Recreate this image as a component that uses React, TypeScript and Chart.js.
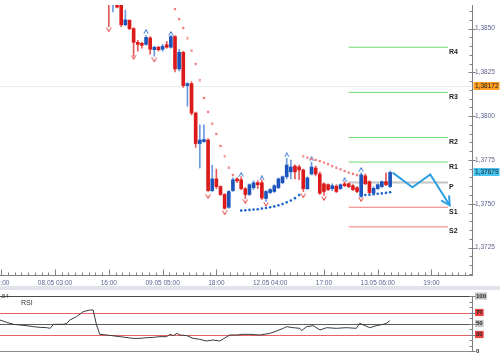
import React, { useEffect, useRef } from 'react';
import { Chart, registerables } from 'chart.js';

Chart.register(...registerables);

// ---- axis settings ----
const X_MIN = -26.57;
const X_MAX = 100.79;
const PRICE_MIN = 1.370874;
const PRICE_MAX = 1.386345;

// ---- x axis (hours from 08.05 03:00) ----
const xTickHours = [-13, 0, 13, 26, 39, 52, 65, 78, 91];
const xTickLabels = ['14:00', '08.05 03:00', '16:00', '09.05 05:00', '18:00', '12.05 04:00', '17:00', '13.05 06:00', '19:00'];
const xMinorPerMajor = 8;

// ---- price axis ----
const yTickValues = [1.3725, 1.375, 1.3775, 1.38, 1.3825, 1.385];

// ---- candles ----
const candleHours = [13, 14, 15, 16, 17, 18, 19, 20, 21, 22, 23, 24, 25, 26, 27, 28, 29, 30, 31, 32, 33, 34, 35, 36, 37, 38, 39, 40, 41, 42, 43, 44, 45, 46, 47, 48, 49, 50, 51, 52, 53, 54, 55, 56, 57, 58, 59, 60, 61, 62, 63, 64, 65, 66, 67, 68, 69, 70, 71, 72, 73, 74, 75, 76, 77, 78, 79, 80, 81];
const opens = [1.38803, 1.38651, 1.38663, 1.38646, 1.38522, 1.38548, 1.385, 1.38422, 1.38416, 1.3841, 1.38447, 1.3838, 1.38394, 1.38382, 1.38408, 1.38394, 1.38455, 1.3827, 1.38365, 1.38175, 1.38186, 1.38018, 1.37844, 1.37855, 1.37864, 1.37575, 1.37642, 1.37598, 1.37553, 1.3748, 1.37575, 1.37642, 1.37637, 1.37586, 1.37553, 1.37592, 1.3762, 1.3762, 1.3753, 1.37564, 1.3757, 1.37592, 1.3762, 1.37654, 1.37682, 1.37715, 1.3771, 1.37693, 1.37586, 1.3767, 1.37704, 1.3767, 1.37614, 1.37609, 1.37586, 1.376, 1.37586, 1.37614, 1.37614, 1.37603, 1.37592, 1.37542, 1.37659, 1.37626, 1.3756, 1.37586, 1.37598, 1.37626, 1.37598];
const closes = [1.38663, 1.38719, 1.38623, 1.38522, 1.3855, 1.385, 1.38422, 1.3841, 1.38405, 1.3845, 1.38382, 1.38394, 1.3838, 1.38399, 1.38394, 1.38455, 1.3827, 1.38365, 1.38175, 1.38186, 1.38018, 1.37844, 1.37864, 1.37867, 1.37575, 1.37642, 1.37598, 1.37553, 1.37474, 1.3757, 1.37637, 1.37631, 1.37586, 1.37553, 1.37609, 1.3762, 1.37609, 1.37533, 1.3757, 1.37581, 1.37603, 1.37642, 1.37654, 1.37721, 1.3771, 1.37682, 1.37693, 1.37586, 1.37648, 1.3771, 1.3767, 1.3756, 1.3757, 1.37581, 1.37603, 1.3757, 1.37609, 1.37603, 1.37598, 1.37581, 1.3757, 1.37665, 1.37614, 1.37564, 1.37588, 1.37609, 1.37626, 1.37609, 1.37679];
const highs = [1.38831, 1.38747, 1.38679, 1.38663, 1.38606, 1.3855, 1.38506, 1.38433, 1.38422, 1.38461, 1.38455, 1.38399, 1.38399, 1.3841, 1.38427, 1.38461, 1.38461, 1.38382, 1.38371, 1.38192, 1.38197, 1.38024, 1.37951, 1.37951, 1.37872, 1.37721, 1.37698, 1.37603, 1.37558, 1.37575, 1.37648, 1.37648, 1.37654, 1.37592, 1.37614, 1.37631, 1.37631, 1.37637, 1.37575, 1.37586, 1.37609, 1.37648, 1.37659, 1.3776, 1.37749, 1.37723, 1.37721, 1.37698, 1.37654, 1.37738, 1.37715, 1.37682, 1.3762, 1.37614, 1.37614, 1.37609, 1.37614, 1.37626, 1.3762, 1.37609, 1.37598, 1.37676, 1.3767, 1.37631, 1.37598, 1.37614, 1.37631, 1.37676, 1.37687];
const lows = [1.38511, 1.38595, 1.38618, 1.38511, 1.38517, 1.38494, 1.38343, 1.38371, 1.38388, 1.38405, 1.38354, 1.38343, 1.38371, 1.38371, 1.38388, 1.38388, 1.38253, 1.38259, 1.38164, 1.38057, 1.38007, 1.37822, 1.37704, 1.3785, 1.3757, 1.3757, 1.37586, 1.37547, 1.37469, 1.37474, 1.3757, 1.3762, 1.37581, 1.3753, 1.37547, 1.37581, 1.37586, 1.37525, 1.37513, 1.37558, 1.37564, 1.37586, 1.37614, 1.37642, 1.37642, 1.37642, 1.37637, 1.3757, 1.37581, 1.37665, 1.37659, 1.37553, 1.37547, 1.37575, 1.37575, 1.37564, 1.37581, 1.37598, 1.37592, 1.37575, 1.37564, 1.37536, 1.37609, 1.37558, 1.37558, 1.37581, 1.37592, 1.37603, 1.37592];

// ---- fractals ----
const fractalUpHours = [22, 28, 45, 50, 56, 62, 70, 74];
const fractalUpValues = [1.38483, 1.38472, 1.37667, 1.37648, 1.37779, 1.37756, 1.37637, 1.37695];
const fractalDownHours = [13, 19, 24, 37, 41, 46, 51, 60, 65, 74];
const fractalDownValues = [1.38494, 1.38337, 1.38321, 1.37542, 1.37448, 1.37513, 1.37497, 1.37545, 1.3753, 1.37525];

// ---- parabolic SAR ----
const sarRedHours = [29, 30, 31, 32, 33, 34, 35, 36, 37, 38, 39, 40, 41, 42, 43, 60, 61, 62, 63, 64, 65, 66, 67, 68, 69, 70, 71, 72, 73];
const sarRedValues = [1.38612, 1.38554, 1.38504, 1.38444, 1.38375, 1.38298, 1.38205, 1.38104, 1.38025, 1.37958, 1.37899, 1.37831, 1.3777, 1.37706, 1.37663, 1.3777, 1.37763, 1.37756, 1.37751, 1.37743, 1.37735, 1.37726, 1.37715, 1.37707, 1.37697, 1.37686, 1.37678, 1.3767, 1.37663];
const sarBlueHours = [45, 46, 47, 48, 49, 50, 51, 52, 53, 54, 55, 56, 57, 58, 59, 74, 75, 76, 77, 78, 79, 80, 81];
const sarBlueValues = [1.37461, 1.37463, 1.37465, 1.37467, 1.37469, 1.37473, 1.37476, 1.3748, 1.37485, 1.37491, 1.37498, 1.37508, 1.37519, 1.37532, 1.3755, 1.37547, 1.3755, 1.37551, 1.37554, 1.37557, 1.37559, 1.37562, 1.37566];

// ---- pivot levels ----
const pivotNames = ['R4', 'R3', 'R2', 'R1', 'P', 'S1', 'S2'];
const pivotValues = [1.38394, 1.38136, 1.37878, 1.37738, 1.37622, 1.3748, 1.37368];
const pivotStart = 71;
const pivotEnd = 95;

// ---- forecast arrow ----
const forecastHours = [81.6, 86.4, 90.7, 95.4];
const forecastValues = [1.37678, 1.37594, 1.37667, 1.37491];

// ---- price markers ----
const markPrice = 1.38172;
const lastPrice = 1.37679;

// ---- RSI ----
const rsiHours = [-12.2, -10.6, -9, -7.4, -5.8, -4.2, -2.6, -1, -0.2, 0.6, 3.1, 3.8, 4.5, 6.1, 7.7, 9.3, 10.1, 10.9, 11.7, 13.3, 16.5, 19.6, 21.3, 22.9, 24.5, 26.1, 27.7, 28.5, 29.3, 30.1, 30.9, 32.5, 34, 35.6, 37.2, 38.8, 40.4, 41.2, 42.8, 44.4, 46, 47.6, 50, 52.4, 54, 55.6, 56.4, 58, 59.6, 60, 61.2, 62.8, 64.4, 66, 68.3, 70.7, 73.1, 73.9, 76.3, 77.9, 79.5, 80.3, 81.1];
const rsiValues = [56.4, 52, 48.5, 47.3, 46, 44.2, 43, 42.4, 41.2, 48.5, 48.5, 50.3, 56.4, 62.4, 71.5, 74.5, 74.5, 47.3, 30.3, 29.1, 26.1, 23, 23, 24.2, 24.8, 26.1, 26.1, 30.3, 27.9, 32.1, 29.1, 27.9, 23, 21.2, 18.2, 20, 18.2, 21.8, 29.1, 29.1, 30.3, 30.3, 29.1, 32.1, 36.4, 41.2, 44.2, 42.4, 41.2, 37, 44.2, 46, 38.2, 42.4, 41.2, 42.4, 41.2, 50.3, 42.4, 46, 48.5, 50.3, 55];
const rsiTickValues = [0, 30, 50, 70, 100];
const rsiTickBg = ['rgba(0,0,0,0)', '#ee4444', '#c6c6c6', '#ee4444', '#c6c6c6'];
const rsiLevels = [30, 50, 70];
const rsiLevelColors = ['#e46262', '#5c5c5c', '#e46262'];
const rsiLabel = 'RSI';
const rsiValueLabel = '57,54';

const FONT = 'Liberation Sans';
const AXIS_TEXT = '#5d6390';

function chevron(up: boolean, color: string) {
  const c = document.createElement('canvas');
  c.width = 6;
  c.height = 5;
  const g = c.getContext('2d')!;
  g.strokeStyle = color;
  g.lineWidth = 1;
  g.beginPath();
  if (up) {
    g.moveTo(0.8, 4.6);
    g.lineTo(3, 0.6);
    g.lineTo(5.2, 4.6);
  } else {
    g.moveTo(0.8, 0.4);
    g.lineTo(3, 4.4);
    g.lineTo(5.2, 0.4);
  }
  g.stroke();
  return c;
}

const fmt = (v: number, d: number) => v.toFixed(d).replace('.', ',');

export default function App() {
  const mainRef = useRef<HTMLCanvasElement>(null);
  const rsiRef = useRef<HTMLCanvasElement>(null);

  useEffect(() => {
    const upImg = chevron(true, '#2f72d2');
    const downImg = chevron(false, '#e23a3a');

    const bull = candleHours.map((_, i) => closes[i] >= opens[i]);

    const pivotColor = (n: string) => (n === 'P' ? '#c4c4c4' : n[0] === 'R' ? '#6ad86a' : '#f07878');

    const mainDecor = {
      id: 'mainDecor',
      beforeDatasetsDraw(chart: any) {
        const { ctx, chartArea: a, scales } = chart;
        const y = scales.y;
        const yy = Math.round(y.getPixelForValue(markPrice)) + 0.5;
        ctx.save();
        ctx.strokeStyle = '#ededed';
        ctx.lineWidth = 1;
        ctx.beginPath();
        ctx.moveTo(a.left, yy);
        ctx.lineTo(a.right, yy);
        ctx.stroke();
        ctx.restore();
      },
      afterDraw(chart: any) {
        const { ctx, chartArea: a, scales } = chart;
        const x = scales.x;
        const y = scales.y;
        const by = Math.round(a.bottom) - 0.5;
        const rx = Math.round(a.right) + 0.5;
        ctx.save();
        ctx.strokeStyle = '#808080';
        ctx.lineWidth = 1;
        ctx.beginPath();
        ctx.moveTo(a.left, by);
        ctx.lineTo(rx, by);
        ctx.moveTo(rx, a.top);
        ctx.lineTo(rx, by);
        const step = 13 / xMinorPerMajor;
        for (let k = 0; ; k++) {
          const v = xTickHours[0] + k * step;
          if (v > X_MAX) break;
          const px = Math.round(x.getPixelForValue(v)) + 0.5;
          const len = k % xMinorPerMajor === 0 ? 6 : 3;
          ctx.moveTo(px, by);
          ctx.lineTo(px, by - len);
        }
        for (let k = -10; k < 40; k++) {
          const v = yTickValues[0] + k * 0.0005;
          if (v < PRICE_MIN || v > PRICE_MAX) continue;
          const py = Math.round(y.getPixelForValue(v)) + 0.5;
          if (k % 5 === 0) {
            ctx.moveTo(rx - 4, py);
            ctx.lineTo(rx + 3, py);
          } else {
            ctx.moveTo(rx - 3, py);
            ctx.lineTo(rx, py);
          }
        }
        ctx.stroke();

        const box = (val: number, bg: string) => {
          const py = y.getPixelForValue(val);
          ctx.fillStyle = bg;
          ctx.fillRect(rx + 1, Math.round(py) - 4, 26, 8);
          ctx.fillStyle = '#1e1e1e';
          ctx.font = `6.5px ${FONT}`;
          ctx.textAlign = 'left';
          ctx.textBaseline = 'middle';
          ctx.fillText(fmt(val, 5), rx + 2.5, Math.round(py) + 0.5);
        };
        box(markPrice, '#ff9c22');
        box(lastPrice, '#45c4f2');

        ctx.font = `bold 7px ${FONT}`;
        ctx.fillStyle = '#222';
        ctx.textAlign = 'left';
        ctx.textBaseline = 'middle';
        pivotNames.forEach((n, i) => {
          ctx.fillText(n, x.getPixelForValue(pivotEnd) + 1, y.getPixelForValue(pivotValues[i]) + 4.5);
        });

        const n = forecastHours.length;
        const x1 = x.getPixelForValue(forecastHours[n - 1]);
        const y1 = y.getPixelForValue(forecastValues[n - 1]);
        const x0 = x.getPixelForValue(forecastHours[n - 2]);
        const y0 = y.getPixelForValue(forecastValues[n - 2]);
        const ang = Math.atan2(y1 - y0, x1 - x0);
        ctx.strokeStyle = '#2d9fe3';
        ctx.lineWidth = 2;
        ctx.lineCap = 'round';
        ctx.beginPath();
        ctx.moveTo(x1 + 9 * Math.cos(ang + Math.PI - 0.5), y1 + 9 * Math.sin(ang + Math.PI - 0.5));
        ctx.lineTo(x1, y1);
        ctx.lineTo(x1 + 9 * Math.cos(ang + Math.PI + 0.5), y1 + 9 * Math.sin(ang + Math.PI + 0.5));
        ctx.stroke();
        ctx.restore();
      },
    };

    const main = new Chart(mainRef.current!, {
      type: 'bar',
      data: {
        datasets: [
          {
            type: 'bar',
            label: 'bodies',
            data: candleHours.map((h, i) => ({ x: h, y: [opens[i], closes[i]] })) as any,
            backgroundColor: bull.map((b) => (b ? '#1d55bc' : '#dc1a1a')),
            barThickness: 3,
            grouped: false,
            minBarLength: 1,
            borderWidth: 0,
            order: 2,
          },
          {
            type: 'bar',
            label: 'wicks',
            data: candleHours.map((h, i) => ({ x: h, y: [lows[i], highs[i]] })) as any,
            backgroundColor: bull.map((b) => (b ? '#6b9ae0' : '#e65a5a')),
            barThickness: 1,
            grouped: false,
            borderWidth: 0,
            order: 3,
          },
          ...pivotNames.map((n, i) => ({
            type: 'line' as const,
            label: n,
            data: [
              { x: pivotStart, y: pivotValues[i] },
              { x: pivotEnd, y: pivotValues[i] },
            ],
            borderColor: pivotColor(n),
            borderWidth: n === 'P' ? 2 : 1,
            pointRadius: 0,
            order: 6,
          })),
          {
            type: 'line',
            label: 'sarRed',
            data: sarRedHours.map((h, i) => ({ x: h, y: sarRedValues[i] })),
            showLine: false,
            pointStyle: 'crossRot',
            pointRadius: 1.4,
            pointBorderColor: '#f07878',
            pointBorderWidth: 1.1,
            order: 1,
          },
          {
            type: 'line',
            label: 'sarBlue',
            data: sarBlueHours.map((h, i) => ({ x: h, y: sarBlueValues[i] })),
            showLine: false,
            pointStyle: 'circle',
            pointRadius: 1.3,
            pointBackgroundColor: '#1c66c9',
            pointBorderWidth: 0,
            order: 1,
          },
          {
            type: 'line',
            label: 'fractalUp',
            data: fractalUpHours.map((h, i) => ({ x: h, y: fractalUpValues[i] })),
            showLine: false,
            pointStyle: upImg as any,
            order: 1,
          },
          {
            type: 'line',
            label: 'fractalDown',
            data: fractalDownHours.map((h, i) => ({ x: h, y: fractalDownValues[i] })),
            showLine: false,
            pointStyle: downImg as any,
            order: 1,
          },
          {
            type: 'line',
            label: 'forecast',
            data: forecastHours.map((h, i) => ({ x: h, y: forecastValues[i] })),
            borderColor: '#2d9fe3',
            borderWidth: 2,
            pointRadius: 0,
            order: 0,
          },
        ] as any,
      },
      options: {
        animation: false,
        responsive: false,
        devicePixelRatio: 1,
        events: [],
        layout: { padding: 0 },
        plugins: { legend: { display: false }, tooltip: { enabled: false } },
        scales: {
          x: {
            type: 'linear',
            min: X_MIN,
            max: X_MAX,
            offset: false,
            grid: { display: false, drawTicks: false },
            border: { display: false },
            afterBuildTicks: (s: any) => {
              s.ticks = xTickHours.map((v) => ({ value: v }));
            },
            afterFit: (s: any) => {
              s.height = 10;
              s.paddingLeft = 0;
              s.paddingRight = 0;
            },
            ticks: {
              autoSkip: false,
              maxRotation: 0,
              padding: 3,
              color: AXIS_TEXT,
              font: { family: FONT, size: 6.5 },
              callback: (_v: any, i: number) => xTickLabels[i],
            },
          },
          y: {
            type: 'linear',
            position: 'right',
            min: PRICE_MIN,
            max: PRICE_MAX,
            grid: { display: false, drawTicks: false },
            border: { display: false },
            afterBuildTicks: (s: any) => {
              s.ticks = yTickValues.map((v) => ({ value: v }));
            },
            afterFit: (s: any) => {
              s.width = 28;
              s.paddingTop = 0;
              s.paddingBottom = 0;
            },
            ticks: {
              autoSkip: false,
              padding: 3,
              color: AXIS_TEXT,
              font: { family: FONT, size: 6.5 },
              callback: (v: any) => fmt(Number(v), 4),
            },
          },
        },
      },
      plugins: [mainDecor],
    });

    const rsiDecor = {
      id: 'rsiDecor',
      beforeDatasetsDraw(chart: any) {
        const { ctx, chartArea: a, scales } = chart;
        const y = scales.y;
        ctx.save();
        ctx.lineWidth = 1;
        const hl = (v: number, c: string) => {
          const py = Math.round(y.getPixelForValue(v)) + 0.5;
          ctx.strokeStyle = c;
          ctx.beginPath();
          ctx.moveTo(a.left, py);
          ctx.lineTo(a.right, py);
          ctx.stroke();
        };
        hl(100, '#4a4a4a');
        hl(0, '#8a8a8a');
        rsiLevels.forEach((v, i) => hl(v, rsiLevelColors[i]));
        ctx.restore();
      },
      afterDraw(chart: any) {
        const { ctx, chartArea: a, scales } = chart;
        const y = scales.y;
        const x = scales.x;
        const rx = Math.round(a.right) + 0.5;
        ctx.save();
        ctx.strokeStyle = '#808080';
        ctx.lineWidth = 1;
        ctx.beginPath();
        ctx.moveTo(rx, y.getPixelForValue(100));
        ctx.lineTo(rx, y.getPixelForValue(0));
        for (let v = 0; v <= 100; v += 10) {
          const py = Math.round(y.getPixelForValue(v)) + 0.5;
          const major = rsiTickValues.includes(v);
          ctx.moveTo(rx - 3, py);
          ctx.lineTo(major ? rx + 3 : rx, py);
        }
        ctx.stroke();
        ctx.fillStyle = '#333';
        ctx.font = `7px ${FONT}`;
        ctx.textBaseline = 'middle';
        ctx.textAlign = 'left';
        ctx.fillText(rsiLabel, x.getPixelForValue(-7.2), y.getPixelForValue(87));
        ctx.font = `6px ${FONT}`;
        ctx.textAlign = 'right';
        ctx.fillText(rsiValueLabel, x.getPixelForValue(-10.1), y.getPixelForValue(100) + 0.5);
        ctx.restore();
      },
    };

    const rsi = new Chart(rsiRef.current!, {
      type: 'line',
      data: {
        datasets: [
          {
            label: 'RSI',
            data: rsiHours.map((h, i) => ({ x: h, y: rsiValues[i] })),
            borderColor: '#3a3a3a',
            borderWidth: 1,
            pointRadius: 0,
            tension: 0,
          },
        ],
      },
      options: {
        animation: false,
        responsive: false,
        devicePixelRatio: 1,
        events: [],
        layout: { padding: { top: 6, bottom: 4, left: 0, right: 0 } },
        plugins: { legend: { display: false }, tooltip: { enabled: false } },
        scales: {
          x: { type: 'linear', min: X_MIN, max: X_MAX, display: false },
          y: {
            type: 'linear',
            position: 'right',
            min: 0,
            max: 100,
            grid: { display: false, drawTicks: false },
            border: { display: false },
            afterBuildTicks: (s: any) => {
              s.ticks = rsiTickValues.map((v) => ({ value: v }));
            },
            afterFit: (s: any) => {
              s.width = 28;
              s.paddingTop = 0;
              s.paddingBottom = 0;
            },
            ticks: {
              autoSkip: false,
              padding: 4,
              color: '#222',
              font: { family: FONT, size: 6, weight: 'bold' },
              showLabelBackdrop: true,
              backdropPadding: { left: 1, right: 1, top: 0, bottom: 0 },
              backdropColor: (ctx: any) => rsiTickBg[ctx.index] ?? 'rgba(0,0,0,0)',
            } as any,
          },
        },
      },
      plugins: [rsiDecor],
    });

    return () => {
      main.destroy();
      rsi.destroy();
    };
  }, []);

  return (
    <div style={{ position: 'absolute', left: 0, top: 0, width: 500, height: 355, overflow: 'hidden', background: '#fff' }}>
      <canvas ref={mainRef} width={560} height={286} style={{ position: 'absolute', left: -60, top: 0, width: 560, height: 286 }} />
      <div style={{ position: 'absolute', left: 0, top: 286, width: 500, height: 4, background: '#dfe3ea' }} />
      <canvas ref={rsiRef} width={560} height={65} style={{ position: 'absolute', left: -60, top: 290, width: 560, height: 65 }} />
    </div>
  );
}
